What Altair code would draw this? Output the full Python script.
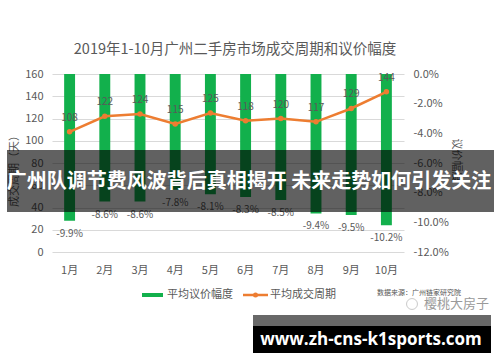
import altair as alt
import pandas as pd

months = ["1月", "2月", "3月", "4月", "5月", "6月", "7月", "8月", "9月", "10月"]
cycle_days = [108, 122, 124, 115, 125, 118, 120, 117, 129, 144]
bargain_pct = [-9.9, -8.6, -8.6, -7.8, -8.1, -8.3, -8.5, -9.4, -9.5, -10.2]
left_ticks = [0, 20, 40, 60, 80, 100, 120, 140, 160]
right_ticks = [0, -2, -4, -6, -8, -10, -12]

title_text = "2019年1-10月广州二手房市场成交周期和议价幅度"
legend_bar = "平均议价幅度"
legend_line = "平均成交周期"
source_text = "数据来源：广州链家研究院"
watermark = "樱桃大房子"
banner_text = "广州队调节费风波背后真相揭开 未来走势如何引发关注"
url_text = "www.zh-cns-k1sports.com"

FONT = "Noto Sans CJK SC"
GREEN = "#12b04c"
ORANGE = "#ed7d31"
GRAY = "#595959"

df = pd.DataFrame({
    "month": months,
    "cycle": cycle_days,
    "bargain": bargain_pct,
    "bargain_label": [f"{v:.1f}%" for v in bargain_pct],
})

W, H = 352, 178

xenc = alt.X(
    "month:N", sort=months, title=None,
    scale=alt.Scale(paddingInner=0.69, paddingOuter=0.345),
    axis=alt.Axis(domain=False, ticks=False, labelAngle=0, labelPadding=12,
                  labelFontSize=11, labelColor=GRAY, labelFont=FONT),
)

base = alt.Chart(df).encode(x=xenc)

bars = base.mark_bar(color=GREEN).encode(
    y=alt.Y("bargain:Q", scale=alt.Scale(domain=[-12, 0], nice=False),
            axis=alt.Axis(orient="right", values=right_ticks, grid=False, domain=False,
                          ticks=False, labelPadding=9, labelFontSize=11, labelColor=GRAY,
                          labelFont=FONT,
                          labelExpr="(datum.value < 0 ? '-' : '') + format(abs(datum.value), '.1f') + '%'",
                          title="议价幅度", titleFont=FONT, titleFontSize=11,
                          titleFontWeight="normal", titleColor=GRAY, titleAngle=90,
                          titleX=51, titleY=86, titleAlign="center", titleBaseline="middle")),
)

bar_text = base.mark_text(dy=13, fontSize=10, color=GRAY, font=FONT).encode(
    y=alt.Y("bargain:Q", scale=alt.Scale(domain=[-12, 0], nice=False), axis=None),
    text="bargain_label:N",
)

line = base.mark_line(color=ORANGE, strokeWidth=2.5).encode(
    y=alt.Y("cycle:Q", scale=alt.Scale(domain=[0, 160], nice=False),
            axis=alt.Axis(orient="left", values=left_ticks, grid=True, gridColor="#d9d9d9",
                          domain=False, ticks=False, labelPadding=9, labelFontSize=11,
                          labelColor=GRAY, labelFont=FONT,
                          title="成交周期（天）", titleFont=FONT, titleFontSize=11,
                          titleFontWeight="normal", titleColor=GRAY,
                          titleX=-38, titleY=94, titleAlign="center", titleBaseline="middle")),
)

points = base.mark_point(filled=True, color=ORANGE, size=30, opacity=1).encode(
    y=alt.Y("cycle:Q", scale=alt.Scale(domain=[0, 160], nice=False), axis=None),
)

line_text = base.mark_text(dy=-14, fontSize=10, color=GRAY, font=FONT).encode(
    y=alt.Y("cycle:Q", scale=alt.Scale(domain=[0, 160], nice=False), axis=None),
    text="cycle:Q",
)

one = pd.DataFrame({"k": [0]})

def label(text, x, y, size, color=GRAY, weight="normal", align="center", font=FONT):
    return alt.Chart(pd.DataFrame({"t": [text]})).mark_text(
        fontSize=size, color=color, fontWeight=weight, align=align, baseline="middle", font=font
    ).encode(text="t:N", x=alt.value(x), y=alt.value(y))

title = label(title_text, 183, -24, 14.5)

leg_rect = alt.Chart(one).mark_rect(color=GREEN).encode(
    x=alt.value(90), x2=alt.value(111), y=alt.value(219), y2=alt.value(223))
leg_bar_t = label(legend_bar, 115, 221, 11, align="left")
leg_line = alt.Chart(one).mark_rule(color=ORANGE, strokeWidth=2.5).encode(
    x=alt.value(191), x2=alt.value(216), y=alt.value(221))
leg_dot = alt.Chart(one).mark_point(filled=True, color=ORANGE, size=25, opacity=1).encode(
    x=alt.value(203.5), y=alt.value(221))
leg_line_t = label(legend_line, 218, 221, 11, align="left")
src = label(source_text, 325, 219, 7, color="#555555", align="left")
wm = label(watermark, 372, 230, 13, color="#9a9a9a", align="left")
wm_icon = alt.Chart(one).mark_point(shape="circle", color="#b5b5b5", size=120, strokeWidth=1).encode(
    x=alt.value(360), y=alt.value(230))

banner = alt.Chart(one).mark_rect(color="#000000", opacity=0.62).encode(
    x=alt.value(-45), x2=alt.value(442), y=alt.value(76), y2=alt.value(138))
banner_t = label(banner_text, 197, 108, 20, color="#ffffff", weight="bold")

url_gray = alt.Chart(one).mark_rect(color="#686868").encode(
    x=alt.value(201), x2=alt.value(439), y=alt.value(241), y2=alt.value(252))
url_black = alt.Chart(one).mark_rect(color="#000000").encode(
    x=alt.value(201), x2=alt.value(439), y=alt.value(252), y2=alt.value(279))
url_t = label(url_text, 319, 265.5, 17, color="#ffffff", weight="bold", font="Open Sans")

chart = alt.layer(
    bars, line, bar_text, points, line_text,
    title, leg_rect, leg_bar_t, leg_line, leg_dot, leg_line_t, src, wm, wm_icon,
    banner, banner_t, url_gray, url_black, url_t,
).resolve_scale(y="independent").properties(
    width=W, height=H,
    autosize=alt.AutoSizeParams(type="none"),
    padding={"left": 52, "top": 74, "right": 96, "bottom": 110},
    background="#ffffff",
).configure_view(stroke=None)

chart.save("out.html", embed_options={"renderer": "svg", "actions": False})
